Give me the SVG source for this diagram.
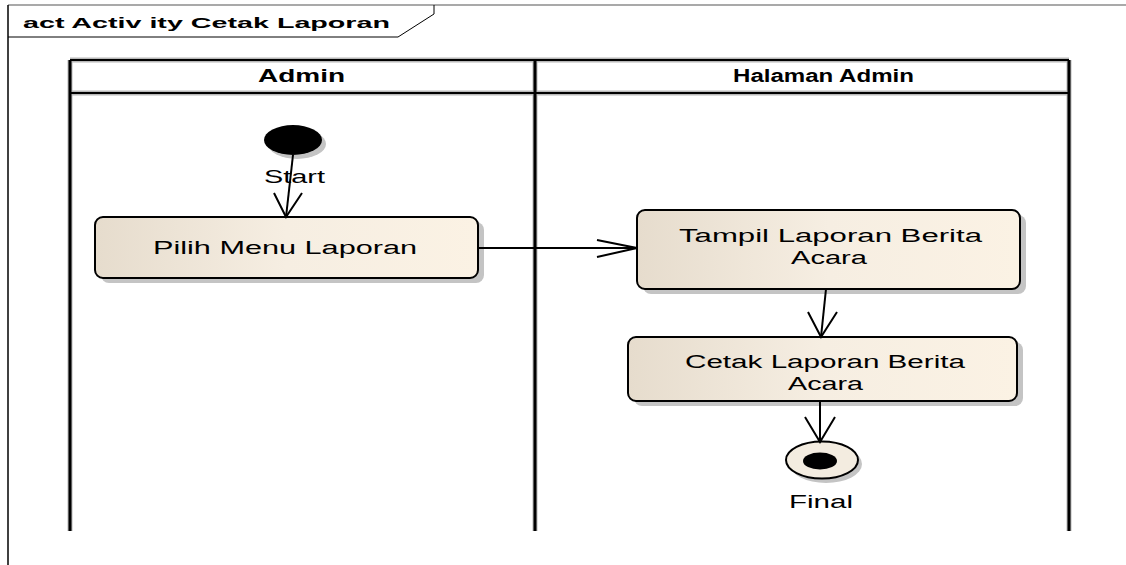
<svg xmlns="http://www.w3.org/2000/svg" width="1126" height="565" viewBox="0 0 1126 565">
  <defs>
    <linearGradient id="actFill" x1="0" y1="0" x2="1" y2="0">
      <stop offset="0" stop-color="#e6dccd"/>
      <stop offset="0.5" stop-color="#f6eee2"/>
      <stop offset="1" stop-color="#fbf2e4"/>
    </linearGradient>
    <style>
      .lbl { font-family: "Liberation Sans", Arial, sans-serif; font-size: 18px; fill: #000; }
      .hdr { font-family: "Liberation Sans", Arial, sans-serif; font-size: 18px; font-weight: bold; fill: #000; }
      .ttl { font-family: "Liberation Sans", Arial, sans-serif; font-size: 15px; font-weight: bold; fill: #000; }
      .act { fill: url(#actFill); stroke: #000; stroke-width: 2; }
      .shadow { fill: #c4c4c4; }
      .lane { stroke: #000; stroke-width: 3; fill: none; }
      .laneHalo { stroke: #b8b8b8; stroke-width: 5; fill: none; }
      .flow { stroke: #000; stroke-width: 2; fill: none; }
    </style>
  </defs>

  <rect width="1126" height="565" fill="#fff"/>

  <!-- diagram frame and name tab -->
  <g id="frame">
    <line x1="8" y1="5" x2="1126" y2="5" stroke="#8c8c8c" stroke-width="1.5"/>
    <line x1="8" y1="5" x2="8" y2="565" stroke="#000" stroke-width="1.5"/>
    <polyline points="8,37 398,37 434,14 434,5" fill="none" stroke="#000" stroke-width="1"/>
    <text class="ttl" x="23" y="28" textLength="367" lengthAdjust="spacingAndGlyphs">act Activ ity Cetak Laporan</text>
  </g>

  <!-- swimlanes -->
  <g id="lanes">
    <g class="laneHalo">
      <line x1="70" y1="60" x2="70" y2="531"/>
      <line x1="535" y1="60" x2="535" y2="531"/>
      <line x1="1069" y1="60" x2="1069" y2="531"/>
      <line x1="70" y1="60" x2="1069" y2="60"/>
      <line x1="70" y1="93" x2="1069" y2="93"/>
    </g>
    <g class="lane">
      <line x1="70" y1="60" x2="70" y2="531"/>
      <line x1="535" y1="60" x2="535" y2="531"/>
      <line x1="1069" y1="60" x2="1069" y2="531"/>
      <line x1="70" y1="60" x2="1069" y2="60" stroke-width="2"/>
      <line x1="70" y1="93" x2="1069" y2="93" stroke-width="2"/>
    </g>
  </g>
  <g id="lane-admin">
    <text class="hdr" x="258" y="82" textLength="87" lengthAdjust="spacingAndGlyphs">Admin</text>
  </g>
  <g id="lane-halaman-admin">
    <text class="hdr" x="733" y="82" textLength="181" lengthAdjust="spacingAndGlyphs">Halaman Admin</text>
  </g>

  <!-- start node -->
  <g id="start">
    <ellipse cx="297" cy="144" rx="29" ry="15" class="shadow"/>
    <ellipse cx="293" cy="140" rx="29" ry="15" fill="#000"/>
  </g>

  <!-- activities -->
  <g id="pilih-menu-laporan">
    <rect x="101" y="222" width="383" height="61" rx="8" class="shadow"/>
    <rect x="95" y="217" width="383" height="61" rx="8" class="act"/>
    <text class="lbl" x="153" y="254" textLength="264" lengthAdjust="spacingAndGlyphs">Pilih Menu Laporan</text>
  </g>

  <g id="tampil-laporan">
    <rect x="643" y="215" width="383" height="79" rx="8" class="shadow"/>
    <rect x="637" y="210" width="383" height="79" rx="8" class="act"/>
    <text class="lbl" x="679" y="242" textLength="303" lengthAdjust="spacingAndGlyphs">Tampil Laporan Berita</text>
    <text class="lbl" x="791" y="264" textLength="76" lengthAdjust="spacingAndGlyphs">Acara</text>
  </g>

  <g id="cetak-laporan">
    <rect x="634" y="342" width="389" height="64" rx="8" class="shadow"/>
    <rect x="628" y="337" width="389" height="64" rx="8" class="act"/>
    <text class="lbl" x="685" y="368" textLength="280" lengthAdjust="spacingAndGlyphs">Cetak Laporan Berita</text>
    <text class="lbl" x="788" y="390" textLength="75" lengthAdjust="spacingAndGlyphs">Acara</text>
  </g>

  <!-- final node -->
  <g id="final">
    <ellipse cx="826" cy="464" rx="36" ry="19" class="shadow"/>
    <ellipse cx="822" cy="460" rx="36" ry="18.5" fill="#f3ece0" stroke="#000" stroke-width="2"/>
    <ellipse cx="820" cy="461" rx="17" ry="8.5" fill="#000"/>
    <text class="lbl" x="789" y="508" textLength="64" lengthAdjust="spacingAndGlyphs">Final</text>
  </g>

  <!-- control flows -->
  <g id="connectors" class="flow">
    <line x1="293" y1="155" x2="286" y2="217"/>
    <polyline points="274,193 286,217 302,193"/>
    <line x1="478" y1="248" x2="637" y2="248"/>
    <polyline points="597,240 637,248 597,257"/>
    <line x1="826" y1="289" x2="821" y2="337"/>
    <polyline points="808,312 821,337 837,312"/>
    <line x1="820" y1="401" x2="820" y2="442"/>
    <polyline points="805,417 820,442 835,417"/>
  </g>
  <text class="lbl" x="264" y="183" textLength="61" lengthAdjust="spacingAndGlyphs">Start</text>
</svg>
